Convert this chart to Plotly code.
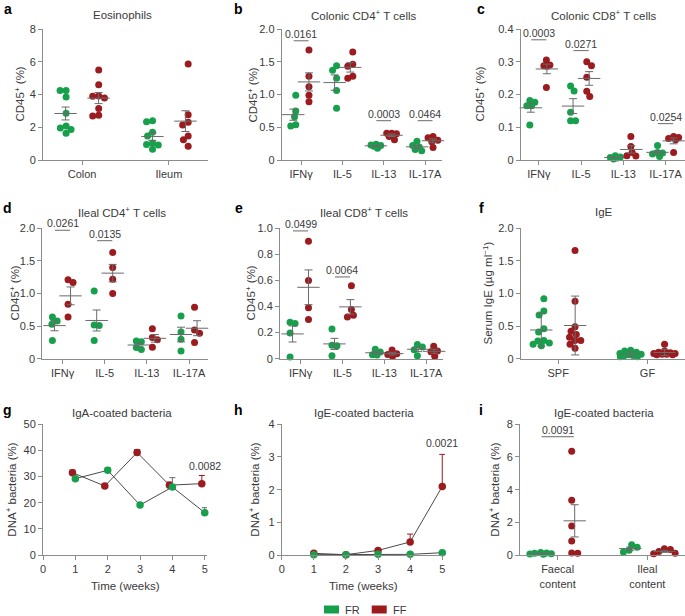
import numpy as np
import plotly.graph_objects as go

FR_colour = "#17a04c"
FF_colour = "#9b1b1f"
AXIS_colour = "#8c8c8c"
TEXT_colour = "#3a3a3a"
BAR_colour = "#6a6a6a"
FONT = "Liberation Sans"
W, H = 685, 616

# ---- data ----
# a  eosinophils
eos_cats = ["Colon", "Ileum"]
eos_FR = [[4.24, 4.24, 3.85, 2.85, 2.08, 1.96, 1.87, 1.63],
          [2.34, 2.40, 1.69, 1.47, 1.04, 0.92, 0.94, 0.65]]
eos_FF = [[5.50, 4.60, 3.89, 3.91, 3.79, 3.14, 2.69, 2.73],
          [5.86, 2.77, 2.14, 2.30, 1.47, 1.24, 0.84]]

cyto_cats = ["IFNγ", "IL-5", "IL-13", "IL-17A"]
# b  colonic CD4
ccd4_FR = [[0.99, 0.75, 0.66, 0.54, 0.52],
           [1.44, 1.37, 1.25, 1.06, 0.79],
           [0.24, 0.23, 0.22, 0.21, 0.18],
           [0.285, 0.22, 0.20, 0.16, 0.14]]
ccd4_FF = [[1.68, 1.28, 1.12, 0.99, 0.89],
           [1.65, 1.46, 1.43, 1.28, 1.25],
           [0.41, 0.41, 0.40, 0.36, 0.31],
           [0.36, 0.34, 0.30, 0.28, 0.19]]
# c  colonic CD8
ccd8_FR = [[0.182, 0.176, 0.166, 0.166, 0.107],
           [0.226, 0.211, 0.146, 0.120, 0.120],
           [0.013, 0.009, 0.008, 0.006, 0.003],
           [0.044, 0.023, 0.021, 0.018, 0.011]]
ccd8_FF = [[0.305, 0.290, 0.288, 0.286, 0.221],
           [0.300, 0.288, 0.253, 0.210, 0.194],
           [0.072, 0.041, 0.023, 0.013, 0.012],
           [0.072, 0.069, 0.066, 0.062, 0.023]]
# d  ileal CD4
icd4_FR = [[0.64, 0.58, 0.53, 0.28],
           [1.04, 0.515, 0.51, 0.28],
           [0.27, 0.26, 0.17, 0.14],
           [0.655, 0.41, 0.30, 0.12]]
icd4_FF = [[1.21, 1.17, 0.835, 0.64],
           [1.63, 1.40, 1.22, 1.00],
           [0.46, 0.325, 0.29, 0.175],
           [0.79, 0.44, 0.39, 0.25]]
# e  ileal CD8
icd8_FR = [[0.28, 0.27, 0.197, 0.013],
           [0.228, 0.103, 0.10, 0.023],
           [0.072, 0.051, 0.031, 0.028],
           [0.108, 0.09, 0.069, 0.023]]
icd8_FF = [[0.90, 0.60, 0.39, 0.30],
           [0.56, 0.377, 0.333, 0.32],
           [0.067, 0.038, 0.033, 0.018],
           [0.095, 0.059, 0.054, 0.018]]
# f  serum IgE
ige_cats = ["SPF", "GF"]
ige_FR = [[0.92, 0.73, 0.67, 0.46, 0.41, 0.28, 0.27, 0.24, 0.22, 0.20],
          [0.13, 0.12, 0.10, 0.08, 0.07, 0.06, 0.05, 0.04, 0.03, 0.03]]
ige_FF = [[1.66, 0.88, 0.49, 0.42, 0.37, 0.33, 0.28, 0.28, 0.22, 0.16],
          [0.22, 0.12, 0.10, 0.09, 0.08, 0.08, 0.07, 0.07, 0.06, 0.06]]
# g  IgA-coated bacteria over time
weeks = [1, 2, 3, 4, 5]
iga_FR = [29.2, 32.4, 19.1, 26.0, 16.2]
iga_FR_err = [0.8, 1.0, 0.9, 3.6, 1.9]
iga_FF = [31.5, 26.4, 39.2, 26.7, 27.3]
iga_FF_err = [1.0, 0.8, 1.1, 1.2, 3.1]
# h  IgE-coated bacteria over time
igeb_t_FR = [0.01, 0.01, 0.02, 0.02, 0.07]
igeb_t_FR_err = [0.01, 0.01, 0.01, 0.01, 0.02]
igeb_t_FF = [0.05, 0.01, 0.14, 0.40, 2.10]
igeb_t_FF_err = [0.02, 0.01, 0.05, 0.24, 0.98]
# i  IgE-coated bacteria by site
content_cats = ["Faecal<br>content", "Ileal<br>content"]
igeb_FR = [[0.15, 0.12, 0.10, 0.08, 0.06, 0.04],
           [0.63, 0.47, 0.29, 0.18]]
igeb_FF = [[6.35, 3.35, 1.77, 0.86, 0.12, 0.10],
           [0.38, 0.33, 0.22, 0.10, 0.08]]

CD45 = "CD45<sup>+</sup> (%)"
DNA = "DNA<sup>+</sup> bacteria (%)"

ROWS = {1: (29, 160), 2: (228.3, 358.7), 3: (424.3, 555)}
COL_TITLE_X = [122, 364, 604]
ROW_TITLE_Y = {1: 15, 2: 212, 3: 413}
COL_LETTER_X = [8, 239, 481]
ROW_LETTER_Y = {1: 9, 2: 208, 3: 410}
DODGE = 0.19
MSIZE = 7

panels = [
    dict(letter="a", title="Eosinophils", row=1, col=0, x=(43, 208), kind="dots",
         cats=eos_cats, xrange=(-0.45, 1.45), yrange=(0, 8),
         yticks=[0, 2, 4, 6, 8], yticktext=["0", "2", "4", "6", "8"],
         ylabel=CD45, ylabel_x=19, fr=eos_FR, ff=eos_FF, err="sem", pvals=[]),
    dict(letter="b", title="Colonic CD4<sup>+</sup> T cells", row=1, col=1, x=(281.7, 442), kind="dots",
         cats=cyto_cats, xrange=(-0.47, 3.41), yrange=(0, 2),
         yticks=[0, 0.5, 1, 1.5, 2], yticktext=["0", "0.5", "1.0", "1.5", "2.0"],
         ylabel=CD45, ylabel_x=252, fr=ccd4_FR, ff=ccd4_FF, err="sem",
         pvals=[(0, 1.82, "0.0161"), (2, 0.60, "0.0003"), (3, 0.60, "0.0464")]),
    dict(letter="c", title="Colonic CD8<sup>+</sup> T cells", row=1, col=2, x=(520.7, 685), kind="dots",
         cats=cyto_cats, xrange=(-0.43, 3.46), yrange=(0, 0.4),
         yticks=[0, 0.1, 0.2, 0.3, 0.4], yticktext=["0", "0.1", "0.2", "0.3", "0.4"],
         ylabel=CD45, ylabel_x=479, fr=ccd8_FR, ff=ccd8_FF, err="sem",
         pvals=[(0, 0.367, "0.0003"), (1, 0.334, "0.0271"), (3, 0.111, "0.0254")]),
    dict(letter="d", title="Ileal CD4<sup>+</sup> T cells", row=2, col=0, x=(42.3, 208), kind="dots",
         cats=cyto_cats, xrange=(-0.48, 3.45), yrange=(0, 2),
         yticks=[0, 0.5, 1, 1.5, 2], yticktext=["0", "0.5", "1.0", "1.5", "2.0"],
         ylabel=CD45, ylabel_x=14, fr=icd4_FR, ff=icd4_FF, err="sem",
         pvals=[(0, 1.97, "0.0261"), (1, 1.81, "0.0135")]),
    dict(letter="e", title="Ileal CD8<sup>+</sup> T cells", row=2, col=1, x=(280, 443), kind="dots",
         cats=cyto_cats, xrange=(-0.49, 3.4), yrange=(0, 1),
         yticks=[0, 0.2, 0.4, 0.6, 0.8, 1.0], yticktext=["0", "0.2", "0.4", "0.6", "0.8", "1.0"],
         ylabel=CD45, ylabel_x=250, fr=icd8_FR, ff=icd8_FF, err="sem",
         pvals=[(0, 0.98, "0.0499"), (1, 0.627, "0.0064")]),
    dict(letter="f", title="IgE", row=2, col=2, x=(520.7, 685), kind="dots",
         cats=ige_cats, xrange=(-0.42, 1.42), yrange=(0, 2),
         yticks=[0, 0.5, 1, 1.5, 2], yticktext=["0", "0.5", "1.0", "1.5", "2.0"],
         ylabel="Serum IgE (µg ml<sup>−1</sup>)", ylabel_x=487, fr=ige_FR, ff=ige_FF,
         err="sd", pvals=[]),
    dict(letter="g", title="IgA-coated bacteria", row=3, col=0, x=(43, 207), kind="time",
         xrange=(0, 5.07), yrange=(0, 50),
         yticks=[0, 10, 20, 30, 40, 50], yticktext=["0", "10", "20", "30", "40", "50"],
         ylabel=DNA, ylabel_x=11, fr=iga_FR, fr_err=iga_FR_err, ff=iga_FF, ff_err=iga_FF_err,
         ff_shift=-0.09, ptext=("0.0082", 34.2)),
    dict(letter="h", title="IgE-coated bacteria", row=3, col=1, x=(281.7, 445), kind="time",
         xrange=(0, 5.085), yrange=(0, 4),
         yticks=[0, 1, 2, 3, 4], yticktext=["0", "1", "2", "3", "4"],
         ylabel=DNA, ylabel_x=254, fr=igeb_t_FR, fr_err=igeb_t_FR_err, ff=igeb_t_FF,
         ff_err=igeb_t_FF_err, ff_shift=0.0, ptext=("0.0021", 3.42)),
    dict(letter="i", title="IgE-coated bacteria", row=3, col=2, x=(520, 685), kind="dots",
         cats=content_cats, xrange=(-0.42, 1.42), yrange=(0, 8),
         yticks=[0, 2, 4, 6, 8], yticktext=["0", "2", "4", "6", "8"],
         ylabel=DNA, ylabel_x=494, fr=igeb_FR, ff=igeb_FF, err="sem", pvals=[(0, 7.24, "0.0091")]),
]


def swarm(vals, px_per_y, gap, limit):
    """beeswarm-ish: horizontal pixel offsets (within +-limit) so markers don't pile up"""
    placed = []
    offs = np.zeros(len(vals))
    cands = sorted(np.arange(-limit, limit + 0.01, 0.25), key=lambda c: (abs(c), c))
    for i in np.argsort(vals)[::-1]:
        y = vals[i] * px_per_y
        best, best_d = 0.0, -1.0
        for c in cands:
            d = min([np.hypot(c - ox, y - oy) for ox, oy in placed] or [1e9])
            if d >= gap:
                best = c
                break
            if d > best_d:
                best, best_d = c, d
        placed.append((best, y))
        offs[i] = best
    return offs - (offs.max() + offs.min()) / 2 if len(offs) > 1 else offs


def paper(px, py):
    return px / W, 1 - py / H


fig = go.Figure()
layout = dict(width=W, height=H, margin=dict(l=0, r=0, t=0, b=0, pad=0), autosize=False,
              paper_bgcolor="white", plot_bgcolor="white", showlegend=False,
              font=dict(family=FONT, size=11, color=TEXT_colour))
annotations, shapes = [], []


def label(px, py, text, size=11.5, angle=0, colour=TEXT_colour, xanchor="center"):
    x, y = paper(px, py)
    annotations.append(dict(xref="paper", yref="paper", x=x, y=y, text=text, showarrow=False,
                            textangle=angle, xanchor=xanchor, yanchor="middle",
                            font=dict(size=size, color=colour)))


for k, p in enumerate(panels, start=1):
    sfx = "" if k == 1 else str(k)
    xref, yref = "x" + sfx, "y" + sfx
    top, bottom = ROWS[p["row"]]
    ax = dict(showline=True, linecolor=AXIS_colour, linewidth=1, ticks="outside", ticklen=4,
              tickcolor=AXIS_colour, showgrid=False, zeroline=False, automargin=False,
              tickfont=dict(size=11, color=TEXT_colour))
    xa = dict(ax, domain=[p["x"][0] / W, p["x"][1] / W], range=list(p["xrange"]), anchor=yref)
    ya = dict(ax, domain=[1 - bottom / H, 1 - top / H], range=list(p["yrange"]), anchor=xref,
              tickvals=p["yticks"], ticktext=p["yticktext"])

    px_per_x = (p["x"][1] - p["x"][0]) / (p["xrange"][1] - p["xrange"][0])
    px_per_y = (bottom - top) / (p["yrange"][1] - p["yrange"][0])

    if p["kind"] == "dots":
        xa.update(tickvals=list(range(len(p["cats"]))), ticktext=p["cats"])
        for groups, colour, shift in ((p["fr"], FR_colour, -DODGE), (p["ff"], FF_colour, DODGE)):
            for ci, vals in enumerate(groups):
                vals = np.asarray(vals, float)
                offs = swarm(vals, px_per_y, MSIZE - 1, 0.12 * px_per_x) / px_per_x
                fig.add_trace(go.Scatter(
                    x=ci + shift + offs, y=vals, mode="markers", xaxis=xref, yaxis=yref,
                    marker=dict(size=MSIZE, color=colour, line=dict(width=0)),
                    cliponaxis=False, hoverinfo="skip"))
                sd = vals.std(ddof=1)
                e = sd if p["err"] == "sd" else sd / np.sqrt(len(vals))
                fig.add_trace(go.Scatter(
                    x=[ci + shift], y=[vals.mean()], mode="markers", xaxis=xref, yaxis=yref,
                    marker=dict(symbol="line-ew", size=16, color=BAR_colour,
                                line=dict(width=1, color=BAR_colour)),
                    error_y=dict(type="data", array=[e], width=4, thickness=1, color=BAR_colour),
                    cliponaxis=False, hoverinfo="skip"))
        for ci, lvl, txt in p["pvals"]:
            shapes.append(dict(type="line", xref=xref, yref=yref, x0=ci - 0.18, x1=ci + 0.18,
                               y0=lvl, y1=lvl, line=dict(color=BAR_colour, width=1)))
            annotations.append(dict(xref=xref, yref=yref, x=ci, y=lvl, text=txt, showarrow=False,
                                    yanchor="bottom", yshift=-1,
                                    font=dict(size=10.5, color=TEXT_colour)))
    else:
        xa.update(tickvals=[0, 1, 2, 3, 4, 5], ticktext=["0", "1", "2", "3", "4", "5"])
        label((p["x"][0] + p["x"][1]) / 2 + 0.5, 586, "Time (weeks)")
        wk = np.asarray(weeks, float)
        for vals, errs, colour, shift, ecol in (
                (p["ff"], p["ff_err"], FF_colour, p["ff_shift"], FF_colour),
                (p["fr"], p["fr_err"], FR_colour, 0.0, BAR_colour)):
            fig.add_trace(go.Scatter(
                x=wk + shift, y=vals, mode="lines+markers", xaxis=xref, yaxis=yref,
                line=dict(color="#4a4a4a", width=1),
                marker=dict(size=MSIZE + 0.5, color=colour),
                error_y=dict(type="data", symmetric=False, array=errs, arrayminus=[0] * len(errs),
                             width=3, thickness=1, color=ecol),
                cliponaxis=False, hoverinfo="skip"))
        txt, lvl = p["ptext"]
        annotations.append(dict(xref=xref, yref=yref, x=weeks[-1], y=lvl, text=txt, showarrow=False,
                                font=dict(size=10.5, color=TEXT_colour)))

    layout["xaxis" + sfx] = xa
    layout["yaxis" + sfx] = ya

    label(p["ylabel_x"], (top + bottom) / 2, p["ylabel"], angle=-90)
    label(COL_TITLE_X[p["col"]], ROW_TITLE_Y[p["row"]], p["title"])
    label(COL_LETTER_X[p["col"]], ROW_LETTER_Y[p["row"]], "<b>%s</b>" % p["letter"],
          size=14, colour="black")

# legend
for name, colour, x0 in (("FR", FR_colour, 324), ("FF", FF_colour, 371.7)):
    shapes.append(dict(type="rect", xref="paper", yref="paper", x0=x0 / W, x1=(x0 + 15) / W,
                       y0=1 - 613.5 / H, y1=1 - 605.5 / H, fillcolor=colour, line=dict(width=0)))
    label(x0 + 19, 609.5, name, size=11, xanchor="left")

layout["annotations"] = annotations
layout["shapes"] = shapes
fig.update_layout(layout)

# the page's default body margin would shift the figure; drop it
fig.write_html("out.html", config={"displayModeBar": False},
               post_script="document.body.style.margin='0';document.body.style.overflow='hidden';")
